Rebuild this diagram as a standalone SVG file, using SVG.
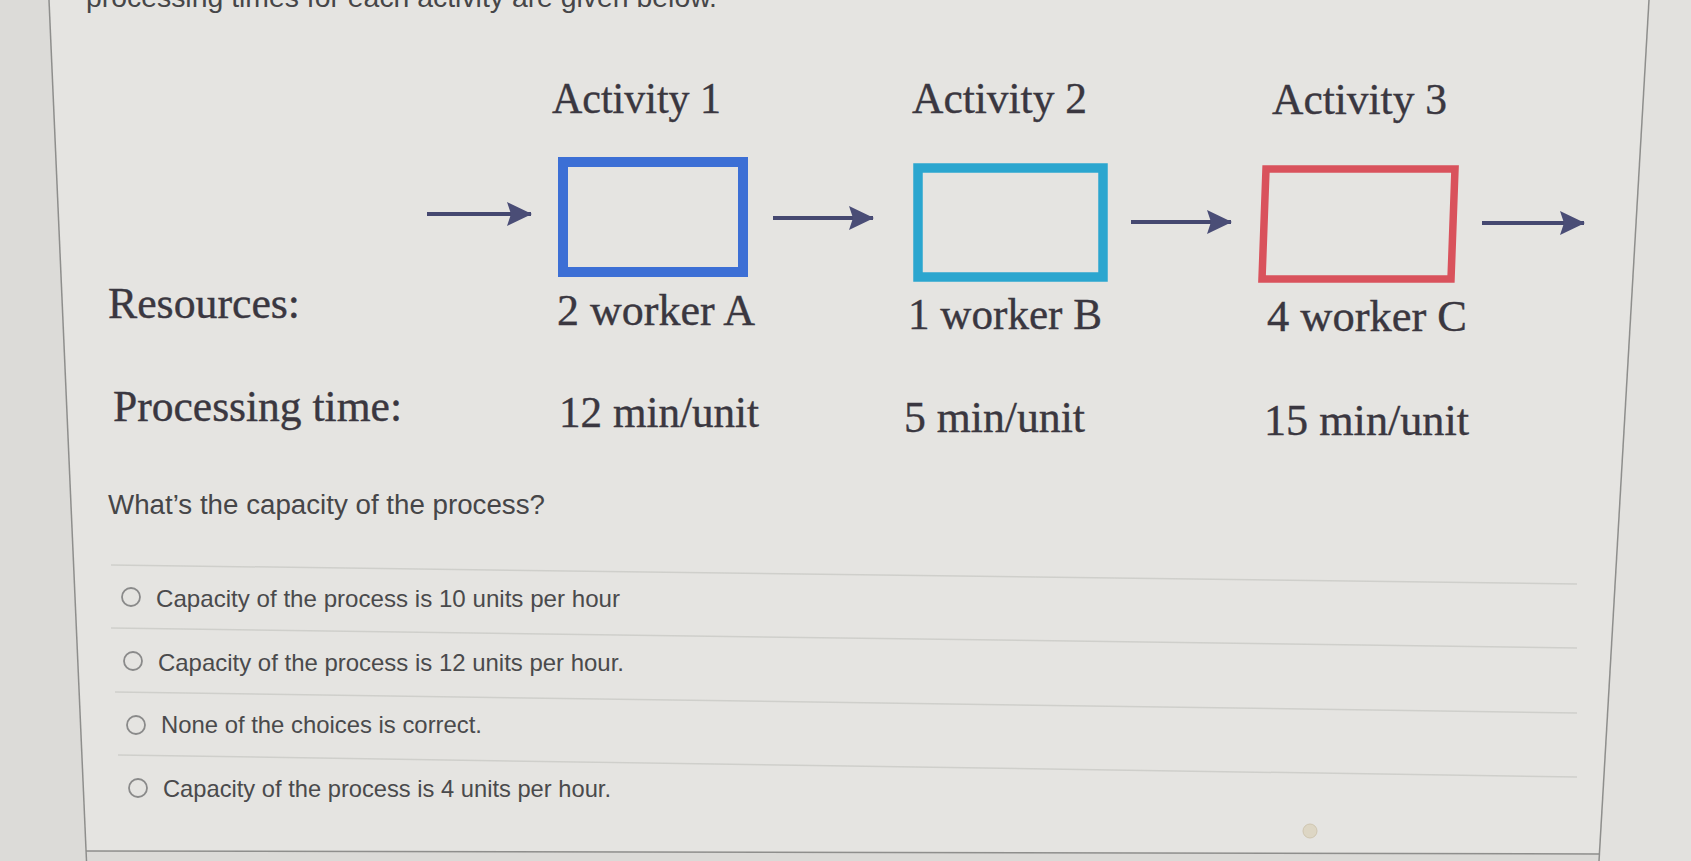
<svg xmlns="http://www.w3.org/2000/svg" width="1691" height="861" viewBox="0 0 1691 861">
<style>
.serif{font-family:"Liberation Serif","Times New Roman",serif;font-size:45px;fill:#3a3740;stroke:#3a3740;stroke-width:0.4}
.sans{font-family:"Liberation Sans",Arial,sans-serif;font-size:24px;fill:#4a4a4c}
.q{font-family:"Liberation Sans",Arial,sans-serif;font-size:27px;fill:#464648}
.sep{stroke:#cfcfcb;stroke-width:1.5;fill:none}
.edge{stroke:#8e8e8c;stroke-width:1.5;fill:none}
.radio{fill:none;stroke:#8a8a8a;stroke-width:1.8}
.conn{stroke:#454870;stroke-width:4;fill:none;marker-end:url(#ah)}
.box{fill:none}
</style>
<defs>
<marker id="ah" markerUnits="userSpaceOnUse" markerWidth="25" markerHeight="24" viewBox="0 0 25 24" refX="24" refY="12" orient="auto">
<path d="M0,0 L25,12 L0,24 L4,12 Z" fill="#4a4d76"/>
</marker>
</defs>
<!-- background -->
<rect x="0" y="0" width="1691" height="861" fill="#e5e4e1"/>
<polygon points="0,0 49,0 86,861 0,861" fill="#dcdbd8"/>
<polygon points="1649,0 1691,0 1691,861 1599,861" fill="#e2e1de"/>
<polygon points="86,851 1600,854 1599,861 86,861" fill="#dbdad7"/>
<line class="edge" x1="49" y1="0" x2="86.5" y2="861"/>
<line class="edge" x1="1649" y1="0" x2="1599" y2="861"/>
<line class="edge" x1="86" y1="851" x2="1600" y2="854"/>
<!-- cut-off intro line (cut at the top edge in the reference as well) -->
<text class="q" x="86" y="7" font-size="28" textLength="631" lengthAdjust="spacingAndGlyphs">processing times for each activity are given below.</text>
<!-- row labels -->
<text class="serif" x="108" y="318" textLength="192" lengthAdjust="spacingAndGlyphs">Resources:</text>
<text class="serif" x="113" y="421" textLength="289" lengthAdjust="spacingAndGlyphs">Processing time:</text>
<!-- nodes -->
<g id="activity1">
<text class="serif" x="552" y="113" textLength="169" lengthAdjust="spacingAndGlyphs">Activity 1</text>
<rect class="box" x="563" y="162" width="180" height="110" stroke="#3c6fd5" stroke-width="10"/>
<text class="serif" x="557" y="325" textLength="198" lengthAdjust="spacingAndGlyphs">2 worker A</text>
<text class="serif" x="559" y="427" textLength="200" lengthAdjust="spacingAndGlyphs">12 min/unit</text>
</g>
<g id="activity2">
<text class="serif" x="912" y="113" textLength="175" lengthAdjust="spacingAndGlyphs">Activity 2</text>
<rect class="box" x="918" y="168" width="185" height="109" stroke="#2ba6cf" stroke-width="9.5"/>
<text class="serif" x="908" y="329" textLength="194" lengthAdjust="spacingAndGlyphs">1 worker B</text>
<text class="serif" x="904" y="432" textLength="181" lengthAdjust="spacingAndGlyphs">5 min/unit</text>
</g>
<g id="activity3">
<text class="serif" x="1272" y="114" textLength="175" lengthAdjust="spacingAndGlyphs">Activity 3</text>
<polygon class="box" points="1266,169 1455,169 1451,279 1262,279" stroke="#d9525c" stroke-width="7.5"/>
<text class="serif" x="1267" y="331" textLength="200" lengthAdjust="spacingAndGlyphs">4 worker C</text>
<text class="serif" x="1264" y="435" textLength="205" lengthAdjust="spacingAndGlyphs">15 min/unit</text>
</g>
<!-- connectors -->
<g id="connectors">
<line class="conn" x1="427" y1="214" x2="531" y2="214"/>
<line class="conn" x1="773" y1="218" x2="873" y2="218"/>
<line class="conn" x1="1131" y1="222" x2="1231" y2="222"/>
<line class="conn" x1="1482" y1="223" x2="1584" y2="223"/>
</g>
<!-- question -->
<text class="q" x="108" y="514" textLength="437" lengthAdjust="spacingAndGlyphs">What’s the capacity of the process?</text>
<g id="separators">
<line class="sep" x1="111" y1="565" x2="1577" y2="584"/>
<line class="sep" x1="111" y1="628" x2="1577" y2="648"/>
<line class="sep" x1="115" y1="692" x2="1577" y2="713"/>
<line class="sep" x1="118" y1="755" x2="1577" y2="777"/>
</g>
<g id="option1">
<circle class="radio" cx="131" cy="597" r="9"/>
<text class="sans" x="156" y="607" textLength="464" lengthAdjust="spacingAndGlyphs">Capacity of the process is 10 units per hour</text>
</g>
<g id="option2">
<circle class="radio" cx="133" cy="661" r="9"/>
<text class="sans" x="158" y="671" textLength="466" lengthAdjust="spacingAndGlyphs">Capacity of the process is 12 units per hour.</text>
</g>
<g id="option3">
<circle class="radio" cx="136" cy="725" r="9"/>
<text class="sans" x="161" y="733" textLength="321" lengthAdjust="spacingAndGlyphs">None of the choices is correct.</text>
</g>
<g id="option4">
<circle class="radio" cx="138" cy="788" r="9"/>
<text class="sans" x="163" y="797" textLength="448" lengthAdjust="spacingAndGlyphs">Capacity of the process is 4 units per hour.</text>
</g>
<circle cx="1310" cy="831" r="7" fill="#ddd6c4" stroke="#cfc6b0" stroke-width="1"/>
</svg>
